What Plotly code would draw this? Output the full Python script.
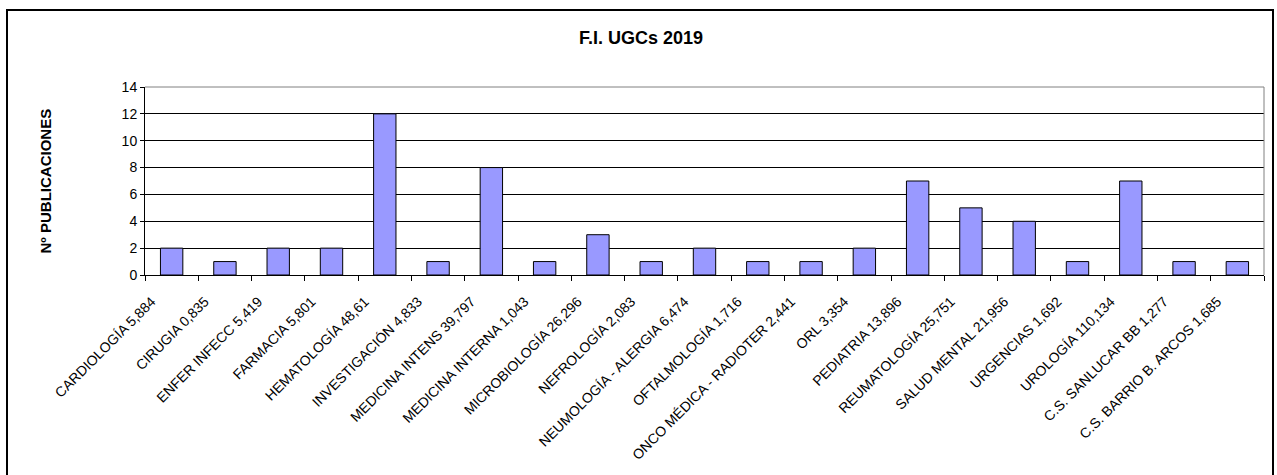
import plotly.graph_objects as go

# Datos: UGC con su factor de impacto y nº de publicaciones
categorias = [
    "CARDIOLOGÍA 5,884",
    "CIRUGIA 0,835",
    "ENFER INFECC 5,419",
    "FARMACIA 5,801",
    "HEMATOLOGÍA 48,61",
    "INVESTIGACIÓN 4,833",
    "MEDICINA INTENS 39,797",
    "MEDICINA INTERNA 1,043",
    "MICROBIOLOGÍA 26,296",
    "NEFROLOGÍA 2,083",
    "NEUMOLOGÍA - ALERGIA 6,474",
    "OFTALMOLOGÍA 1,716",
    "ONCO MÉDICA - RADIOTER 2,441",
    "ORL 3,354",
    "PEDIATRIA 13,896",
    "REUMATOLOGÍA 25,751",
    "SALUD MENTAL 21,956",
    "URGENCIAS 1,692",
    "UROLOGÍA 110,134",
    "C.S. SANLUCAR BB 1,277",
    "C.S. BARRIO B. ARCOS 1,685",
]
publicaciones = [2, 1, 2, 2, 12, 1, 8, 1, 3, 1, 2, 1, 1, 2, 7, 5, 4, 1, 7, 1, 1]
y_ticks = [0, 2, 4, 6, 8, 10, 12, 14]

W, H = 1277, 475
L, R, T, B = 145, 13, 87, 200
pw = W - L - R
ph = H - T - B

fig = go.Figure()
fig.add_trace(go.Bar(
    x=categorias, y=publicaciones,
    marker=dict(color="#9999FF", line=dict(color="black", width=1)),
))

font = "Liberation Sans, Arial, sans-serif"

fig.update_layout(
    width=W, height=H,
    margin=dict(l=L, r=R, t=T, b=B, autoexpand=False),
    paper_bgcolor="white", plot_bgcolor="white",
    bargap=0.58,
    showlegend=False,
    font=dict(family=font, size=13, color="black"),
    title=dict(text="<b>F.I. UGCs 2019</b>", x=641 / W, xanchor="center",
               y=1 - 38 / H, yanchor="middle",
               font=dict(family=font, size=18, color="black")),
)

fig.update_xaxes(
    tickangle=-45, tickfont=dict(size=14),
    ticklabelstandoff=12, ticklabelshift=-20,
    showline=True, linecolor="black", linewidth=1,
    ticks="outside", tickson="boundaries", ticklen=5, tickcolor="black",
    showgrid=False, automargin=False,
)
fig.update_yaxes(
    range=[0, 14], tickvals=y_ticks, tickfont=dict(size=14),
    showline=True, linecolor="black", linewidth=1,
    ticks="outside", ticklen=4, tickcolor="black",
    showgrid=True, gridcolor="black", gridwidth=1,
    zeroline=False, automargin=False,
)

# borde del área de trazado (arriba y derecha en gris)
fig.add_shape(type="line", xref="paper", yref="paper", x0=0, x1=1, y0=1, y1=1,
              line=dict(color="#808080", width=1))
fig.add_shape(type="line", xref="paper", yref="paper", x0=1, x1=1, y0=0, y1=1,
              line=dict(color="#808080", width=1))

# marco exterior del gráfico
fig.add_shape(type="rect", xref="paper", yref="paper",
              x0=(7 - L) / pw, x1=(1273 - L) / pw,
              y0=(T + ph - 485) / ph, y1=(T + ph - 10) / ph,
              line=dict(color="black", width=2), layer="below")

fig.add_annotation(
    text="<b>Nº PUBLICACIONES</b>", textangle=-90,
    xref="paper", yref="paper", x=(34 - L) / pw, y=0.5,
    showarrow=False, font=dict(family=font, size=15, color="black"),
)

fig.write_html("out.html", config={"displayModeBar": False},
               post_script="document.body.style.margin='0';")
